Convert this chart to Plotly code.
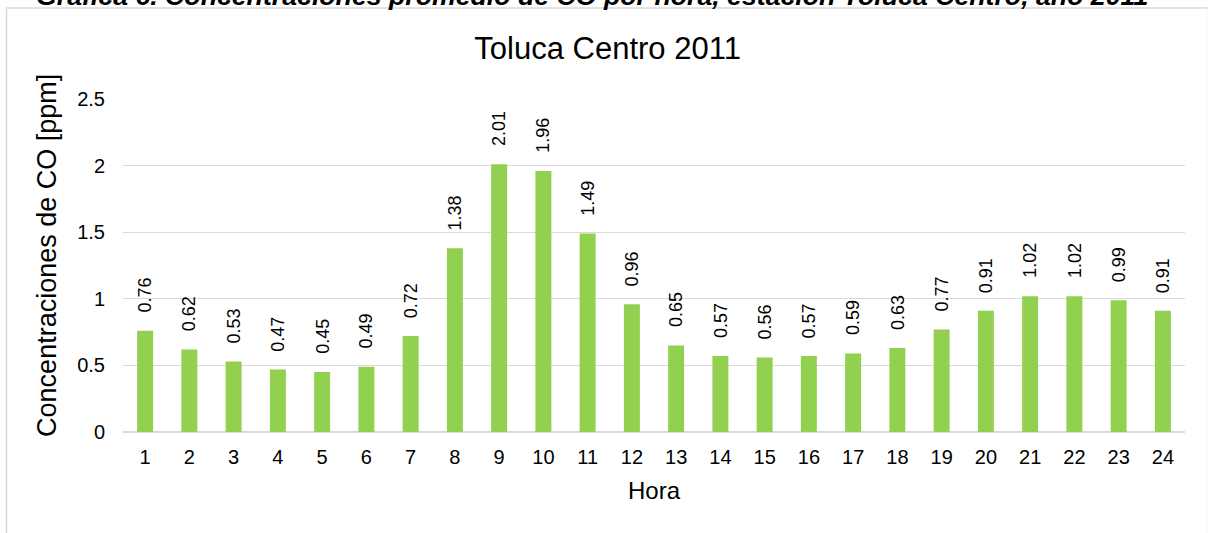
import plotly.graph_objects as go

hours = [str(h) for h in range(1, 25)]
co_ppm = [0.76, 0.62, 0.53, 0.47, 0.45, 0.49, 0.72, 1.38, 2.01, 1.96, 1.49, 0.96,
          0.65, 0.57, 0.56, 0.57, 0.59, 0.63, 0.77, 0.91, 1.02, 1.02, 0.99, 0.91]
y_ticks = [0, 0.5, 1, 1.5, 2, 2.5]
y_ticktext = ["0", "0.5", "1", "1.5", "2", "2.5"]

chart_title = "Toluca Centro 2011"
caption = "Gráfica 6. Concentraciones promedio de CO por hora, estación Toluca Centro, año 2011"
x_title = "Hora"
y_title = "Concentraciones de CO [ppm]"

FONT = "Liberation Sans, Arial, sans-serif"
GRID = "#d9d9d9"
BAR = "#92d050"

fig = go.Figure()
fig.add_trace(go.Bar(
    x=hours, y=co_ppm, marker=dict(color=BAR, line=dict(width=0)),
    hoverinfo="x+y",
))

annotations = []
for i, v in enumerate(co_ppm):
    annotations.append(dict(
        x=i, y=v, xref="x", yref="y", text=f"{v:.2f}", showarrow=False,
        textangle=-90, yanchor="bottom", xanchor="center", yshift=16,
        font=dict(family=FONT, size=18, color="#000000"),
    ))

annotations.append(dict(
    x=0.5, y=-0.176, xref="paper", yref="paper", text=x_title, showarrow=False,
    xanchor="center", yanchor="middle",
    font=dict(family=FONT, size=24, color="#000000"),
))
annotations.append(dict(
    x=-0.0715, y=0.529, xref="paper", yref="paper", text=y_title, showarrow=False,
    textangle=-90, xanchor="center", yanchor="middle",
    font=dict(family=FONT, size=27, color="#000000"),
))
annotations.append(dict(
    x=0.442, y=1.309, xref="paper", yref="paper", text="<b><i>" + caption + "</i></b>",
    showarrow=False, xanchor="center", yanchor="middle",
    font=dict(family=FONT, size=26.7, color="#000000"),
))

fig.update_layout(
    width=1208, height=533,
    margin=dict(l=123, r=23, t=99, b=101, pad=0),
    paper_bgcolor="white", plot_bgcolor="white",
    bargap=0.639,
    showlegend=False,
    title=dict(text=chart_title, x=0.503, xref="container", xanchor="center",
               y=0.91, yref="container", yanchor="middle",
               font=dict(family=FONT, size=31, color="#000000")),
    xaxis=dict(
        type="category", showgrid=False, showline=False, ticks="",
        tickfont=dict(family=FONT, size=20, color="#000000"),
        ticklabelstandoff=11,
    ),
    yaxis=dict(
        range=[0, 2.5], tickvals=y_ticks, ticktext=y_ticktext,
        showgrid=True, gridcolor=GRID, gridwidth=1.3,
        zeroline=True, zerolinecolor=GRID, zerolinewidth=1.6,
        showline=False, ticks="",
        tickfont=dict(family=FONT, size=20, color="#000000"),
        ticklabelstandoff=17,
    ),
    annotations=annotations,
    shapes=[dict(type="rect", xref="paper", yref="paper",
                 x0=-0.1097, x1=1.0222, y0=-0.33, y1=1.273,
                 line=dict(color=GRID, width=1.5), fillcolor="rgba(0,0,0,0)",
                 layer="below")],
)

fig.write_html(
    "out.html",
    config={"displayModeBar": False},
    post_script="document.body.style.margin='0';document.body.style.overflow='hidden';",
)
